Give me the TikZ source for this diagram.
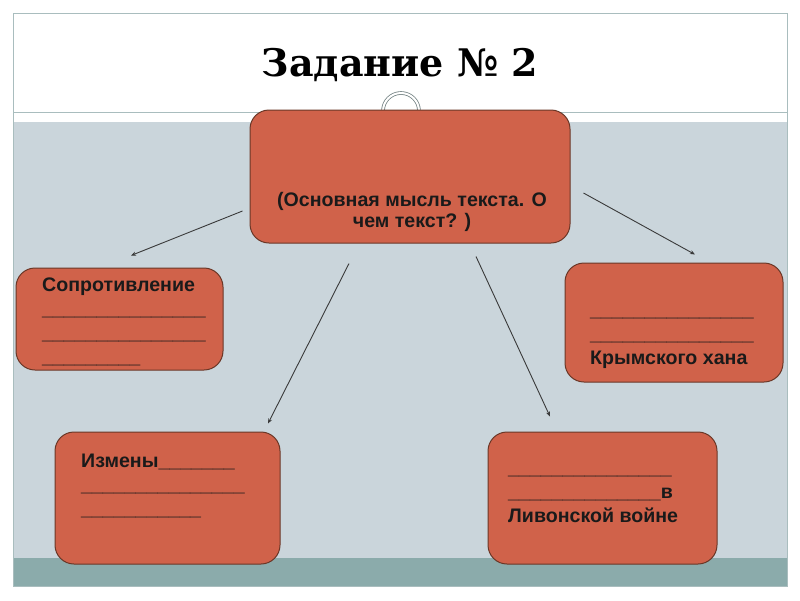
\documentclass[tikz,border=0pt]{standalone}
\usepackage{fontspec}
\setmainfont{Liberation Sans}
\newfontfamily\titlefont{DejaVu Serif}
\usetikzlibrary{arrows.meta,calc}
\definecolor{brick}{HTML}{D0624A}
\definecolor{brickline}{HTML}{6A3727}
\definecolor{paper}{HTML}{CAD5DB}
\definecolor{band}{HTML}{8BABAB}
\definecolor{frameline}{HTML}{A9BDBE}
\definecolor{ink}{HTML}{1A1A1A}
\definecolor{wire}{HTML}{3A3A3A}

\begin{document}
\begin{tikzpicture}[x=1pt,y=-1pt,
      box/.style={draw=brickline,fill=brick,line width=1pt,rounded corners=19pt,inner sep=0pt},
      txt/.style={font=\bfseries\fontsize{19.6}{24}\selectfont,text=ink,inner sep=0pt,align=left,anchor=base west},
      arr/.style={-{Stealth[length=5pt,width=4pt]},wire,line width=0.9pt}]
    % slide background
    \fill[white] (0,0) rectangle (800,600);
    \useasboundingbox (0,0) rectangle (800,600);
    \fill[paper] (13,122) rectangle (787,558);
    \fill[band] (13,558) rectangle (787,586);
    \draw[frameline,line width=1pt] (13,13) rectangle (787,586);
    \draw[frameline,line width=1pt] (13,112) -- (787,112);
    \node[font=\titlefont\bfseries\fontsize{38}{44}\selectfont,anchor=base] (title) at (400,76) {Задание № 2};
    % ring
    \draw[frameline!70!black,double=white,double distance=2pt,line width=0.8pt] (383,111) arc[start angle=180,end angle=360,radius=18];
    % boxes
    \node[box,minimum width=320pt,minimum height=133pt] (main) at (410,176.5) {};
    \node[box,minimum width=207pt,minimum height=102pt] (resist) at (119.5,319) {};
    \node[box,minimum width=218pt,minimum height=119pt] (khan) at (674,322.5) {};
    \node[box,minimum width=225pt,minimum height=132pt] (treason) at (167.5,498) {};
    \node[box,minimum width=229pt,minimum height=132pt] (livonia) at (602.5,498) {};
    % texts (base = last line)
    \node[txt,align=center,anchor=base,font=\bfseries\fontsize{19.6}{21}\selectfont] (main-t) at (412,227) {(Основная мысль текста. О\\чем текст? )};
    \node[txt] (resist-t) at (42,363) {Сопротивление\\\_\_\_\_\_\_\_\_\_\_\_\_\_\_\_\\\_\_\_\_\_\_\_\_\_\_\_\_\_\_\_\\\_\_\_\_\_\_\_\_\_};
    \node[txt] (khan-t) at (590,364) {\_\_\_\_\_\_\_\_\_\_\_\_\_\_\_\\\_\_\_\_\_\_\_\_\_\_\_\_\_\_\_\\Крымского хана};
    \node[txt] (treason-t) at (81,515) {Измены\_\_\_\_\_\_\_\\\_\_\_\_\_\_\_\_\_\_\_\_\_\_\_\\\_\_\_\_\_\_\_\_\_\_\_};
    \node[txt] (livonia-t) at (508,522) {\_\_\_\_\_\_\_\_\_\_\_\_\_\_\_\\\_\_\_\_\_\_\_\_\_\_\_\_\_\_в\\Ливонской войне};
    % arrows
    \draw[arr] ([xshift=-7pt,yshift=-34.5pt]main.west) -- ([xshift=11.5pt,yshift=12pt]resist.north);
    \draw[arr] ([xshift=13pt,yshift=-16.5pt]main.east) -- ([xshift=21pt,yshift=8pt]khan.north);
    \draw[arr] ([xshift=-61pt,yshift=-20pt]main.south) -- ([xshift=100.5pt,yshift=8pt]treason.north);
    \draw[arr] ([xshift=66pt,yshift=-13pt]main.south) -- ([xshift=-52.5pt,yshift=15pt]livonia.north);
\end{tikzpicture}
\end{document}
